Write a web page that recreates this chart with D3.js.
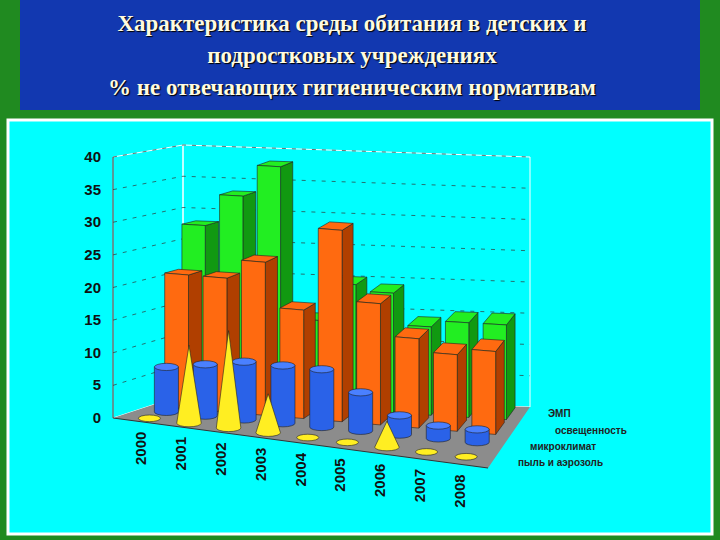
<!DOCTYPE html>
<html><head><meta charset="utf-8">
<script src="https://cdn.jsdelivr.net/npm/d3@7"></script>
<style>body{margin:0;background:#1f7a1f}</style>
</head><body>
<script>
var years = ['2000','2001','2002','2003','2004','2005','2006','2007','2008'];
var seriesNames = ['ЭМП','освещенность','микроклимат','пыль и аэрозоль'];
// back row to front row
var emp = [28, 33, 38, 14, 20, 19, 14, 15, 15];
var light = [21, 21, 24, 17, 30, 19, 14, 12, 13];
var climate = [7, 8, 9, 9, 9, 6, 3, 2, 2];
var dust = [0.4, 12, 15, 6, 0.3, 0.3, 4, 0.3, 0.3];
var yTicks = [0,5,10,15,20,25,30,35,40];

var W = 720, H = 540;
var svg = d3.select('body').append('svg').attr('width', W).attr('height', H);

// frame
svg.append('rect').attr('width', W).attr('height', H).attr('fill', '#208a20');
svg.append('rect').attr('x', 20).attr('y', 0).attr('width', 680).attr('height', 110).attr('fill', '#1238b0');
svg.append('rect').attr('x', 8).attr('y', 120).attr('width', 704).attr('height', 414)
  .attr('fill', '#00ffff').attr('stroke', '#ffffff').attr('stroke-width', 3);

var title = ['Характеристика среды обитания в детских и', 'подростковых учреждениях', '%  не отвечающих гигиеническим нормативам'];
svg.selectAll('.t').data(title).enter().append('text')
  .attr('x', 352).attr('y', function(d, i) { return 31 + i * 32; })
  .attr('text-anchor', 'middle').attr('fill', '#fffbe0').attr('font-weight', 'bold')
  .attr('style', 'text-shadow:1px 1px 1px #000')
  .attr('font-family', 'Liberation Serif, serif').attr('font-size', 23)
  .text(function(d) { return d; });

// floor corners: u along years (0..1), w along depth (0 back .. 1 front)
var BL = [183, 395], BR = [530, 407], FL = [113, 418], FR = [488, 468];
function floor(u, w) {
  var bx = d3.interpolateNumber(BL[0], BR[0])(u), by = d3.interpolateNumber(BL[1], BR[1])(u);
  var fx = d3.interpolateNumber(FL[0], FR[0])(u), fy = d3.interpolateNumber(FL[1], FR[1])(u);
  return [bx + (fx - bx) * w, by + (fy - by) * w];
}
var hFront = d3.scaleLinear().domain([0, 40]).range([0, 261]);
var hBack = d3.scaleLinear().domain([0, 40]).range([0, 250]);
function pt(u, w, v) {
  var p = floor(u, w);
  var h = hBack(v) + (hFront(v) - hBack(v)) * w;
  return [p[0], p[1] - h];
}
function path(pts) { return 'M' + pts.map(function(p) { return p.join(','); }).join('L') + 'Z'; }

// walls
var g = svg.append('g');
var topB = pt(0, 0, 40), topBR = pt(1, 0, 40), topFL = pt(0, 1, 40);
g.append('path').attr('d', path([FL, BL, topB, topFL])).attr('fill', 'none').attr('stroke', '#fff');
g.append('path').attr('d', path([BL, BR, topBR, topB])).attr('fill', 'none').attr('stroke', '#fff');
g.append('path').attr('d', path([FL, FR, BR, BL])).attr('fill', '#8c8c8c');
yTicks.slice(1).forEach(function(t) {
  var a = pt(0, 1, t), b = pt(0, 0, t), c = pt(1, 0, t);
  g.append('path').attr('d', 'M' + a + 'L' + b + 'L' + c).attr('fill', 'none')
    .attr('stroke', '#333').attr('stroke-width', 0.7).attr('stroke-dasharray', '4,6');
});
g.append('line').attr('x1', FL[0]).attr('y1', FL[1]).attr('x2', topFL[0]).attr('y2', topFL[1]).attr('stroke', '#333');
g.append('line').attr('x1', FL[0]).attr('y1', FL[1]).attr('x2', FR[0]).attr('y2', FR[1]).attr('stroke', '#333');

g.selectAll('.yt').data(yTicks).enter().append('text')
  .attr('x', 101).attr('y', function(d) { return pt(0, 1, d)[1] + 5; })
  .attr('text-anchor', 'end').attr('font-family', 'Liberation Sans, Arial').attr('font-weight', 'bold')
  .attr('font-size', 15).attr('fill', '#111').text(function(d) { return d; });

var xBand = d3.scaleBand().domain(years).range([0, 1]).padding(0.38);
var rows = [
  {vals: emp, w: 0.12, shape: 'box', c: '#22ee22', d: '#119911'},
  {vals: light, w: 0.37, shape: 'box', c: '#ff6a10', d: '#b03f00'},
  {vals: climate, w: 0.62, shape: 'cyl', c: '#2a62e8', d: '#12349a'},
  {vals: dust, w: 0.87, shape: 'cone', c: '#ffee22', d: '#c0a800'}
];
var dw = 0.1;
rows.forEach(function(r) {
  years.forEach(function(yr, i) {
    var u0 = xBand(yr), u1 = u0 + xBand.bandwidth(), v = r.vals[i];
    var w0 = r.w - dw, w1 = r.w + dw;
    if (r.shape === 'box') {
      var a = pt(u0, w1, 0), b = pt(u1, w1, 0), c = pt(u1, w1, v), d = pt(u0, w1, v);
      var b2 = pt(u1, w0, 0), c2 = pt(u1, w0, v), d2 = pt(u0, w0, v);
      g.append('path').attr('d', path([b, b2, c2, c])).attr('fill', r.d).attr('stroke', '#222').attr('stroke-width', 0.6);
      g.append('path').attr('d', path([d, c, c2, d2])).attr('fill', r.c).attr('stroke', '#222').attr('stroke-width', 0.6);
      g.append('path').attr('d', path([a, b, c, d])).attr('fill', r.c).attr('stroke', '#222').attr('stroke-width', 0.6);
    } else {
      var um = (u0 + u1) / 2, base = pt(um, r.w, 0), top = pt(um, r.w, v);
      var rx = (pt(u1, r.w, 0)[0] - pt(u0, r.w, 0)[0]) / 2, ry = rx * 0.3;
      if (r.shape === 'cyl') {
        var grad = 'M' + (base[0] - rx) + ',' + base[1] + 'A' + rx + ',' + ry + ' 0 0 0 ' + (base[0] + rx) + ',' + base[1] +
          'L' + (top[0] + rx) + ',' + top[1] + 'L' + (top[0] - rx) + ',' + top[1] + 'Z';
        g.append('path').attr('d', grad).attr('fill', r.c).attr('stroke', '#222').attr('stroke-width', 0.6);
        g.append('ellipse').attr('cx', top[0]).attr('cy', top[1]).attr('rx', rx).attr('ry', ry)
          .attr('fill', '#4a80ff').attr('stroke', '#222').attr('stroke-width', 0.6);
      } else {
        if (v < 1) {
          g.append('ellipse').attr('cx', base[0]).attr('cy', base[1]).attr('rx', rx * 0.9).attr('ry', ry * 0.9)
            .attr('fill', r.c).attr('stroke', '#222').attr('stroke-width', 0.6);
        } else {
          var cone = 'M' + (base[0] - rx) + ',' + base[1] + 'A' + rx + ',' + ry + ' 0 0 0 ' + (base[0] + rx) + ',' + base[1] +
            'L' + top[0] + ',' + top[1] + 'Z';
          g.append('path').attr('d', cone).attr('fill', r.c).attr('stroke', '#222').attr('stroke-width', 0.6);
        }
      }
    }
  });
});

// year labels
g.selectAll('.yr').data(years).enter().append('text')
  .attr('transform', function(d) {
    var p = floor(xBand(d) + xBand.bandwidth() / 2, 1);
    return 'translate(' + (p[0] + 5) + ',' + (p[1] + 10) + ') rotate(-90)';
  })
  .attr('text-anchor', 'end').attr('font-family', 'Liberation Sans, Arial').attr('font-weight', 'bold')
  .attr('font-size', 15).attr('fill', '#111').text(function(d) { return d; });

// series labels
var labPos = [[548, 417], [555, 434], [530, 450], [518, 466]];
g.selectAll('.sn').data(seriesNames).enter().append('text')
  .attr('x', function(d, i) { return labPos[i][0]; }).attr('y', function(d, i) { return labPos[i][1]; })
  .attr('font-family', 'Liberation Sans, Arial').attr('font-size', 10).attr('font-weight', 'bold')
  .attr('fill', '#222').text(function(d) { return d; });
</script>
</body></html>
